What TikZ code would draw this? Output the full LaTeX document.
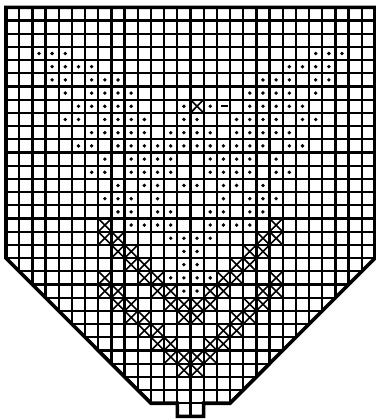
\documentclass[tikz,border=0pt]{standalone}
\newcommand\xcell[2]{\draw[xmark] (#1,#2) -- ++(1,1) (#1+1,#2) -- ++(-1,1);}
\newcommand\dotcell[2]{\fill[dotmark] (#1+0.5,#2+0.5) circle (0.95pt);}
\begin{document}
\begin{tikzpicture}[x=6.59pt,y=-6.6pt,
  gridline/.style={line width=1.15pt},
  outline/.style={line width=1.8pt,line join=miter},
  xmark/.style={line width=0.8pt},
  dotmark/.style={black},
  dashmark/.style={line width=1.1pt}]
\useasboundingbox (-0.455,-0.553) rectangle (28.07,31.27);
% grid clipped to the chart outline
\begin{scope}
\clip (0,0) -- (28,0) -- (28,19) -- (17,30) -- (15,30) -- (15,31) -- (13,31) -- (13,30) -- (11,30) -- (0,19) -- cycle;
\foreach \c in {1,...,27} \draw[gridline] (\c,0) -- (\c,31);
\foreach \r in {1,...,30} \draw[gridline] (0,\r) -- (28,\r);
\end{scope}
\draw[outline] (0,0) -- (28,0) -- (28,19) -- (17,30) -- (15,30) -- (15,31) -- (13,31) -- (13,30) -- (11,30) -- (0,19) -- cycle;
% dots (left half, mirrored)
\foreach \r/\cols in {3/{2,3,4},4/{3,4,5,6},5/{3,4,6,7,8},6/{4,6,7,8,9},7/{5,6,7,8,9},
  8/{4,5,7,8,9,10,13},9/{6,7,8,9,10,12,13},10/{5,6,8,9,10,11,12,13},
  11/{7,9,10,11,12},12/{6,7,9,10,11,12},13/{8,10,11,13},14/{7,8,9,11},
  15/{8,9,11,12},16/{9,10,11,12},17/{12,13},18/{13},19/{13},20/{12,13},21/{13}}{
  \foreach \c in \cols {
    \pgfmathtruncatemacro\m{27-\c}
    \dotcell{\c}{\r}
    \dotcell{\m}{\r}
  }
}
% special cells in row 7
\dotcell{13}{7}
\dotcell{15}{7}
\xcell{14}{7}
\draw[dashmark] (16.3,7.5) -- (16.85,7.5);
% upper chevron
\foreach \r in {16,...,22}{
  \pgfmathtruncatemacro\c{\r-9}\pgfmathtruncatemacro\m{27-\c}
  \xcell{\c}{\r}\xcell{\m}{\r}}
\foreach \r in {17,...,23}{
  \pgfmathtruncatemacro\c{\r-10}\pgfmathtruncatemacro\m{27-\c}
  \xcell{\c}{\r}\xcell{\m}{\r}}
% lower chevron
\foreach \r in {20,...,26}{
  \pgfmathtruncatemacro\c{\r-13}\pgfmathtruncatemacro\m{27-\c}
  \xcell{\c}{\r}\xcell{\m}{\r}}
\foreach \r in {21,...,27}{
  \pgfmathtruncatemacro\c{\r-14}\pgfmathtruncatemacro\m{27-\c}
  \xcell{\c}{\r}\xcell{\m}{\r}}
\end{tikzpicture}
\end{document}
